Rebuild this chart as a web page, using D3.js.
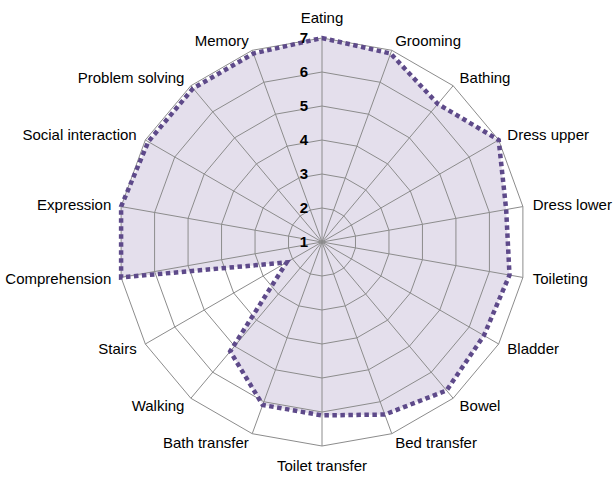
<!DOCTYPE html>
<html>
<head>
<meta charset="utf-8">
<script src="https://cdn.jsdelivr.net/npm/d3@7"></script>
<style>
  html, body { margin: 0; padding: 0; background: #fff; }
  svg { display: block; }
</style>
</head>
<body>
<svg id="chart" width="614" height="478"></svg>
<script>
const categories = ["Eating", "Grooming", "Bathing", "Dress upper", "Dress lower", "Toileting",
  "Bladder", "Bowel", "Bed transfer", "Toilet transfer", "Bath transfer", "Walking", "Stairs",
  "Comprehension", "Expression", "Social interaction", "Problem solving", "Memory"];
const values = [7, 6.9, 6.3, 7, 6.5, 6.6, 6.5, 6.7, 6.4, 6.1, 6.1, 5.2, 2.2, 7, 7, 6.9, 6.9, 6.9];
const tickValues = [1, 2, 3, 4, 5, 6, 7];

const svg = d3.select("#chart");
const cx = 322, cy = 242, R = 204;
const r = d3.scaleLinear().domain([1, 7]).range([0, R]);
const n = categories.length;
const angle = d3.scalePoint().domain(d3.range(n + 1)).range([0, 2 * Math.PI]);
const g = svg.append("g").attr("transform", `translate(${cx},${cy})`);

const radial = d3.lineRadial()
  .angle((d, i) => angle(i))
  .radius(d => r(d))
  .curve(d3.curveLinearClosed);

// filled area
g.append("path")
  .datum(values)
  .attr("d", radial)
  .attr("fill", "#e4dfec")
  .attr("stroke", "none");

// rings
tickValues.filter(v => v > 1).forEach(v => {
  g.append("path")
    .datum(d3.range(n).map(() => v))
    .attr("d", radial)
    .attr("fill", "none")
    .attr("stroke", "#8c8c8c")
    .attr("stroke-width", 1);
});

// spokes
g.selectAll("line.spoke")
  .data(d3.range(n))
  .join("line")
  .attr("class", "spoke")
  .attr("x1", 0).attr("y1", 0)
  .attr("x2", i => r(7) * Math.sin(angle(i)))
  .attr("y2", i => -r(7) * Math.cos(angle(i)))
  .attr("stroke", "#8c8c8c")
  .attr("stroke-width", 1);

// data line (dotted)
g.append("path")
  .datum(values)
  .attr("d", radial)
  .attr("fill", "none")
  .attr("stroke", "#5e4a8a")
  .attr("stroke-width", 4.5)
  .attr("stroke-dasharray", "4.5,3.5");

// tick labels
g.selectAll("text.tick")
  .data(tickValues)
  .join("text")
  .attr("class", "tick")
  .attr("x", -14)
  .attr("y", d => -r(d))
  .attr("dy", "0.35em")
  .attr("text-anchor", "end")
  .attr("font-family", "Liberation Sans, Arial, sans-serif")
  .attr("font-weight", "bold")
  .attr("font-size", 15)
  .attr("fill", "#000")
  .text(d => d);

// category labels
g.selectAll("text.cat")
  .data(categories)
  .join("text")
  .attr("class", "cat")
  .attr("x", (d, i) => (R + 10) * Math.sin(angle(i)))
  .attr("y", (d, i) => {
    const c = Math.cos(angle(i));
    let y = -(R + 10) * c;
    if (Math.abs(Math.sin(angle(i))) < 0.01) y += c > 0 ? -10 : 10;
    return y;
  })
  .attr("dy", "0.35em")
  .attr("text-anchor", (d, i) => {
    const s = Math.sin(angle(i));
    return Math.abs(s) < 0.01 ? "middle" : (s > 0 ? "start" : "end");
  })
  .attr("font-family", "Liberation Sans, Arial, sans-serif")
  .attr("font-size", 15)
  .attr("fill", "#000")
  .text(d => d);
</script>
</body>
</html>
